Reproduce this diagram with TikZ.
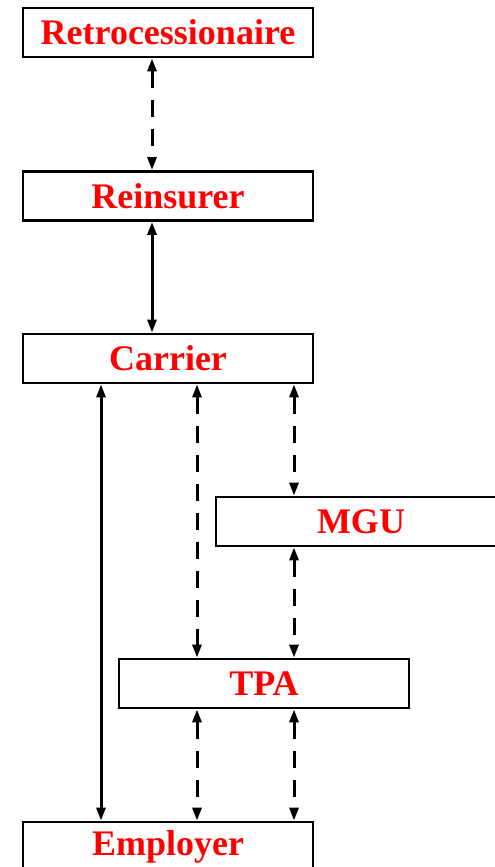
\documentclass[tikz,border=0pt]{standalone}
\usepackage{fontspec}
\setmainfont{Liberation Serif}
\usepackage{tikz}
\usetikzlibrary{arrows.meta}

\begin{document}
\begin{tikzpicture}[x=1pt, y=-1pt, >={Triangle[length=13pt,width=9pt]},
    party/.style={draw, line width=2.8pt, minimum width=290pt, minimum height=49pt,
      inner sep=0pt, text=red, font=\fontsize{36}{40}\selectfont\bfseries},
    link/.style={<->, line width=3pt},
    deal/.style={link, dash pattern=on 17pt off 12pt}]
    \useasboundingbox (0,0) rectangle (495,867);
    % les six acteurs
    \node[party] (retro)    at (168,32.5)  {Retrocessionaire};
    \node[party] (reins)    at (168,196)   {Reinsurer};
    \node[party] (carrier)  at (168,358.5) {Carrier};
    \node[party] (mgu)      at (361,521.5) {MGU};
    \node[party] (tpa)      at (264,683.5) {TPA};
    \node[party] (employer) at (168,846.5) {Employer};
    % liaisons
    \draw[deal] ([xshift=-16pt]retro.south) -- ([xshift=-16pt]reins.north);
    \draw[link] ([xshift=-16pt]reins.south) -- ([xshift=-16pt]carrier.north);
    \draw[link] ([xshift=-67pt]carrier.south) -- ([xshift=-67pt]employer.north);
    \draw[deal] ([xshift=29pt]carrier.south) -- ([xshift=-67pt]tpa.north);
    \draw[deal] ([xshift=126pt]carrier.south) -- ([xshift=-67pt]mgu.north);
    \draw[deal] ([xshift=-67pt]mgu.south) -- ([xshift=30pt]tpa.north);
    \draw[deal] ([xshift=-67pt]tpa.south) -- ([xshift=29pt]employer.north);
    \draw[deal] ([xshift=30pt]tpa.south) -- ([xshift=126pt]employer.north);
  \end{tikzpicture}
\end{document}
